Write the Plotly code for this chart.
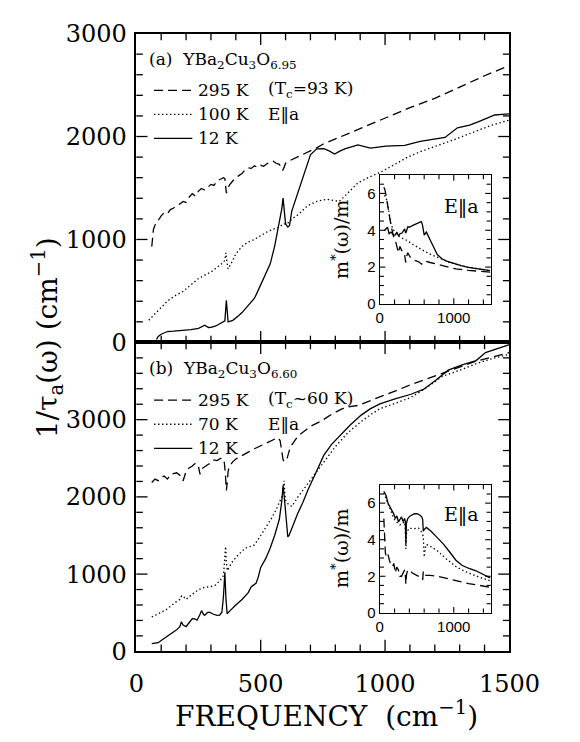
import plotly.graph_objects as go

# ---------------- data ----------------
a295_x = [62, 66, 69, 80, 88, 100, 112, 125, 137, 150, 162, 175, 188, 200, 212, 225, 238, 250, 262, 275, 288, 300, 312, 325, 338, 350, 356, 362, 368, 375, 388, 400, 412, 425, 438, 450, 462, 475, 488, 500, 512, 525, 538, 550, 562, 575, 582, 588, 594, 600, 612, 625, 650, 675, 700, 725, 750, 800, 850, 900, 950, 1000, 1100, 1200, 1300, 1400, 1500]
a295_y = [930, 1060, 1100, 1170, 1185, 1230, 1260, 1250, 1290, 1305, 1330, 1345, 1370, 1360, 1410, 1445, 1420, 1470, 1495, 1480, 1510, 1535, 1525, 1570, 1585, 1600, 1590, 1450, 1500, 1530, 1570, 1600, 1620, 1640, 1680, 1695, 1690, 1715, 1700, 1720, 1710, 1735, 1755, 1760, 1740, 1730, 1700, 1670, 1700, 1740, 1760, 1775, 1805, 1830, 1860, 1890, 1925, 1975, 2025, 2075, 2130, 2180, 2280, 2370, 2480, 2590, 2690]
a100_x = [50, 88, 125, 160, 188, 220, 250, 280, 300, 330, 350, 356, 360, 364, 369, 380, 400, 425, 450, 475, 500, 525, 550, 575, 590, 606, 625, 650, 690, 730, 766, 816, 850, 891, 940, 979, 1040, 1091, 1150, 1216, 1290, 1366, 1430, 1500]
a100_y = [215, 309, 402, 460, 496, 560, 621, 660, 683, 740, 777, 800, 870, 780, 714, 760, 860, 933, 975, 1001, 1040, 1073, 1100, 1120, 1151, 1151, 1198, 1240, 1330, 1375, 1390, 1370, 1450, 1550, 1610, 1650, 1730, 1800, 1860, 1913, 1980, 2053, 2110, 2160]
a12_x = [81, 88, 100, 125, 150, 188, 220, 250, 275, 290, 300, 320, 338, 350, 356, 362, 366, 369, 388, 400, 412, 425, 438, 450, 462, 475, 488, 500, 512, 525, 538, 556, 575, 585, 590, 595, 600, 609, 616, 625, 650, 675, 700, 725, 754, 775, 797, 820, 841, 891, 941, 1004, 1079, 1141, 1191, 1241, 1291, 1340, 1379, 1441, 1470, 1500]
a12_y = [28, 59, 80, 106, 110, 115, 125, 137, 168, 145, 147, 160, 184, 200, 209, 409, 260, 200, 215, 235, 262, 290, 324, 360, 387, 430, 496, 560, 621, 690, 761, 933, 1151, 1300, 1401, 1280, 1151, 1120, 1136, 1276, 1463, 1650, 1822, 1880, 1882, 1860, 1830, 1860, 1882, 1919, 1888, 1907, 1913, 1953, 1970, 1991, 2084, 2110, 2147, 2209, 2215, 2220]
b295_x = [62, 75, 88, 100, 112, 125, 138, 150, 162, 175, 188, 200, 212, 225, 238, 250, 256, 262, 275, 288, 300, 312, 325, 338, 348, 354, 358, 362, 366, 369, 375, 388, 400, 425, 450, 475, 500, 525, 550, 569, 578, 584, 590, 594, 600, 606, 612, 619, 635, 650, 675, 700, 740, 790, 829, 860, 891, 930, 979, 1040, 1104, 1160, 1229, 1290, 1354, 1420, 1500]
b295_y = [2187, 2230, 2210, 2249, 2270, 2230, 2291, 2300, 2312, 2280, 2208, 2330, 2374, 2400, 2436, 2390, 2291, 2360, 2395, 2420, 2440, 2478, 2470, 2498, 2500, 2440, 2300, 2083, 2200, 2332, 2400, 2457, 2490, 2540, 2580, 2623, 2660, 2706, 2740, 2768, 2730, 2600, 2480, 2457, 2470, 2498, 2580, 2643, 2720, 2789, 2850, 2913, 2976, 3080, 3142, 3170, 3184, 3230, 3288, 3370, 3454, 3520, 3599, 3670, 3745, 3800, 3869]
b70_x = [62, 80, 100, 120, 138, 160, 175, 182, 188, 194, 200, 225, 250, 275, 300, 320, 338, 348, 352, 356, 359, 362, 366, 375, 388, 410, 438, 460, 475, 500, 525, 545, 562, 575, 588, 592, 594, 597, 600, 612, 625, 650, 688, 720, 750, 800, 850, 904, 940, 979, 1040, 1104, 1160, 1229, 1300, 1366, 1430, 1500]
b70_y = [444, 470, 506, 540, 589, 640, 672, 720, 714, 690, 672, 740, 797, 830, 838, 860, 921, 960, 1046, 1200, 1357, 1150, 1046, 1100, 1170, 1250, 1336, 1360, 1378, 1500, 1627, 1730, 1834, 1920, 2021, 2150, 2208, 2050, 1959, 1900, 1876, 2000, 2166, 2300, 2436, 2650, 2830, 2976, 3060, 3142, 3210, 3288, 3400, 3558, 3640, 3724, 3790, 3848]
b12_x = [62, 75, 88, 100, 125, 150, 162, 175, 181, 188, 200, 212, 225, 235, 244, 255, 262, 270, 275, 285, 294, 310, 325, 335, 344, 350, 356, 360, 365, 375, 388, 400, 425, 450, 462, 475, 481, 490, 500, 520, 538, 556, 575, 585, 590, 595, 600, 605, 609, 614, 619, 635, 650, 670, 691, 720, 754, 785, 816, 860, 904, 940, 979, 1040, 1104, 1154, 1200, 1254, 1310, 1366, 1404, 1450, 1500]
b12_y = [100, 105, 112, 140, 195, 250, 278, 320, 382, 340, 320, 370, 423, 420, 403, 470, 527, 480, 465, 500, 506, 480, 465, 470, 506, 700, 1025, 700, 486, 520, 569, 600, 672, 760, 838, 860, 880, 960, 1087, 1200, 1336, 1500, 1710, 1950, 2146, 1990, 1793, 1600, 1482, 1500, 1544, 1680, 1793, 1930, 2100, 2300, 2540, 2680, 2789, 2930, 3059, 3140, 3204, 3270, 3329, 3391, 3500, 3641, 3710, 3765, 3869, 3920, 3973]
ia12_x = [63, 85, 105, 126, 150, 189, 210, 231, 252, 273, 300, 336, 350, 357, 380, 399, 440, 483, 520, 559, 575, 590, 601, 630, 670, 714, 777, 840, 903, 960, 1029, 1100, 1197, 1300, 1400, 1491]
ia12_y = [3.99, 4.1, 4.16, 3.81, 3.9, 3.73, 3.75, 3.9, 3.7, 3.81, 3.85, 4.07, 3.85, 3.9, 4.2, 4.16, 4.25, 4.33, 4.4, 4.47, 4.33, 4.0, 3.73, 3.9, 3.6, 3.2, 2.68, 2.45, 2.33, 2.25, 2.16, 2.08, 1.99, 1.93, 1.87, 1.81]
ia100_x = [63, 85, 105, 126, 147, 170, 189, 230, 273, 315, 357, 440, 525, 610, 693, 820, 945, 1070, 1197, 1350, 1491]
ia100_y = [5.9, 5.75, 5.46, 4.9, 4.42, 4.15, 3.99, 3.8, 3.64, 3.55, 3.47, 3.25, 3.03, 2.85, 2.68, 2.45, 2.25, 2.1, 1.99, 1.9, 1.81]
ia295_x = [55, 70, 88, 110, 130, 150, 172, 190, 210, 230, 252, 265, 273, 295, 315, 335, 350, 365, 378, 410, 441, 480, 520, 567, 585, 609, 680, 777, 900, 1029, 1200, 1350, 1491]
ia295_y = [6.33, 6.2, 5.81, 5.2, 4.77, 4.3, 3.9, 3.6, 3.47, 3.1, 2.78, 3.0, 3.12, 2.9, 2.86, 2.7, 2.25, 2.6, 2.78, 2.55, 2.42, 2.35, 2.3, 2.16, 2.25, 2.33, 2.25, 2.16, 2.03, 1.9, 1.82, 1.77, 1.73]
ib12_x = [55, 70, 88, 110, 130, 150, 172, 190, 210, 230, 252, 270, 294, 315, 336, 345, 353, 360, 378, 410, 441, 470, 504, 540, 567, 580, 588, 600, 630, 693, 780, 861, 950, 1029, 1110, 1197, 1300, 1400, 1491]
ib12_y = [6.65, 6.5, 6.39, 6.0, 5.86, 5.7, 5.51, 5.4, 5.16, 5.3, 4.98, 5.1, 5.25, 5.0, 5.16, 5.0, 3.76, 4.9, 5.16, 5.3, 5.37, 5.42, 5.42, 5.35, 5.25, 5.1, 4.46, 4.55, 4.67, 4.46, 4.1, 3.76, 3.3, 2.88, 2.6, 2.44, 2.3, 2.1, 1.91]
ib70_x = [55, 90, 130, 160, 189, 230, 273, 305, 336, 345, 353, 362, 399, 460, 525, 560, 588, 596, 601, 612, 630, 700, 777, 900, 1029, 1110, 1197, 1350, 1491]
ib70_y = [6.56, 6.2, 5.69, 5.4, 5.16, 4.95, 4.81, 4.9, 4.98, 4.6, 3.49, 4.4, 4.63, 4.6, 4.63, 4.45, 4.19, 3.5, 3.05, 3.5, 3.75, 3.6, 3.4, 2.95, 2.53, 2.35, 2.18, 1.95, 1.75]
ib295_x = [55, 60, 63, 75, 88, 110, 130, 150, 172, 190, 210, 230, 252, 270, 294, 315, 336, 345, 353, 362, 378, 410, 441, 500, 567, 580, 588, 600, 680, 777, 900, 1029, 1200, 1350, 1491]
ib295_y = [5.16, 4.3, 3.76, 3.3, 3.05, 3.2, 2.88, 2.6, 2.53, 2.7, 2.18, 2.5, 2.35, 2.0, 2.0, 2.2, 2.35, 2.1, 1.56, 2.1, 2.35, 2.3, 2.18, 2.05, 1.91, 1.8, 2.26, 2.05, 2.05, 2.0, 1.88, 1.75, 1.6, 1.5, 1.4]

legend_a = ["295 K", "100 K", "12 K"]
legend_b = ["295 K", "70 K", "12 K"]
main_yticks = [0, 1000, 2000, 3000]
main_xticks = [0, 500, 1000, 1500]
inset_xticks = [0, 1000]
inset_yticks = [0, 2, 4, 6]

W, H = 580, 742
SERIF = "DejaVu Serif"
SANS = "Liberation Sans"


def fx(p):
    return p / W


def fy(p):
    return 1 - p / H


DASH = "9px,5px"
DOT = "1.4px,2.6px"
STYLES = [DASH, DOT, "solid"]
LW = 1.3

# subplot domains (paper fractions)
MAIN_X = [fx(129), fx(529)]
A_Y = [fy(333), fy(12)]
B_Y = [fy(654), fy(333)]
INS_X = [fx(390), fx(509)]
IA_Y = [fy(293), fy(159)]
IB_Y = [fy(614), fy(481)]

fig = go.Figure()


def add(x, y, dash, xa, ya):
    fig.add_trace(go.Scatter(
        x=x, y=y, mode="lines",
        line=dict(color="black", width=LW, dash=dash),
        xaxis=xa, yaxis=ya, showlegend=False))


add(a295_x, a295_y, DASH, "x", "y")
add(a100_x, a100_y, DOT, "x", "y")
add(a12_x, a12_y, "solid", "x", "y")
add(b295_x, b295_y, DASH, "x2", "y2")
add(b70_x, b70_y, DOT, "x2", "y2")
add(b12_x, b12_y, "solid", "x2", "y2")
add(ia295_x, ia295_y, DASH, "x3", "y3")
add(ia100_x, ia100_y, DOT, "x3", "y3")
add(ia12_x, ia12_y, "solid", "x3", "y3")
add(ib295_x, ib295_y, DASH, "x4", "y4")
add(ib70_x, ib70_y, DOT, "x4", "y4")
add(ib12_x, ib12_y, "solid", "x4", "y4")


def axis(**kw):
    d = dict(showline=True, linecolor="black", linewidth=1.6, mirror=True,
             ticks="", showgrid=False, zeroline=False, ticklabeloverflow="allow")
    d.update(kw)
    return d


def main_x(anchor, labels):
    return axis(domain=MAIN_X, range=[0, 1500], anchor=anchor,
                tickmode="array", tickvals=main_xticks,
                showticklabels=labels, ticklabelstandoff=10,
                tickfont=dict(family=SERIF, size=24, color="black"))


def main_y(anchor, dom, top):
    return axis(domain=dom, range=[0, top], anchor=anchor,
                tickmode="array", tickvals=main_yticks, ticklabelstandoff=3,
                tickfont=dict(family=SERIF, size=24, color="black"))


def inset_x(anchor):
    return axis(domain=INS_X, range=[0, 1500], anchor=anchor,
                tickmode="array", tickvals=inset_xticks, linewidth=1.4,
                tickfont=dict(family=SANS, size=15, color="black"))


def inset_y(anchor, dom):
    return axis(domain=dom, range=[0, 7], anchor=anchor,
                tickmode="array", tickvals=inset_yticks, linewidth=1.4,
                tickfont=dict(family=SANS, size=15, color="black"))


ann = []
shapes = []


def text(x, y, s, size=17, family=SERIF, angle=0, xanchor="left"):
    ann.append(dict(x=fx(x), y=fy(y), xref="paper", yref="paper", text=s,
                    showarrow=False, xanchor=xanchor, yanchor="middle",
                    textangle=angle, font=dict(family=family, size=size, color="black")))


def seq(top, step):
    out, v = [], 0.0
    while v <= top + 1e-9:
        out.append(round(v, 6))
        v += step
    return out


# inward tick marks on all four sides of a frame, mapped from axis values
def tick_marks(xdom, ydom, xmax, ymax, xmaj, xstep, ymaj, ystep, lmaj, lmin, tw):
    xa, xb = xdom
    ya, yb = ydom
    for v in seq(xmax, xstep):
        if v <= 0 or v >= xmax:
            continue
        xp = xa + v / xmax * (xb - xa)
        L = (lmaj if v in xmaj else lmin) / H
        for y0, y1 in ((ya, ya + L), (yb, yb - L)):
            shapes.append(dict(type="line", xref="paper", yref="paper",
                               x0=xp, x1=xp, y0=y0, y1=y1,
                               line=dict(color="black", width=tw)))
    for v in seq(ymax, ystep):
        if v <= 0 or v >= ymax:
            continue
        yp = ya + v / ymax * (yb - ya)
        L = (lmaj if v in ymaj else lmin) / W
        for x0, x1 in ((xa, xa + L), (xb, xb - L)):
            shapes.append(dict(type="line", xref="paper", yref="paper",
                               x0=x0, x1=x1, y0=yp, y1=yp,
                               line=dict(color="black", width=tw)))


tick_marks(MAIN_X, A_Y, 1500, 3000, main_xticks, 100, main_yticks, 200, 12, 7, 1.3)
tick_marks(MAIN_X, B_Y, 1500, 4000, main_xticks, 100, main_yticks, 200, 12, 7, 1.3)
tick_marks(INS_X, IA_Y, 1500, 7, inset_xticks, 200, inset_yticks, 0.5, 6, 4.5, 1.1)
tick_marks(INS_X, IB_Y, 1500, 7, inset_xticks, 200, inset_yticks, 0.5, 6, 4.5, 1.1)


# legend blocks (key line + label), built from the legend name lists
def legend_block(names, y0):
    for i, (nm, st) in enumerate(zip(names, STYLES)):
        yy = y0 + 25 * i
        shapes.append(dict(type="line", xref="paper", yref="paper",
                           x0=fx(148), x1=fx(189), y0=fy(yy), y1=fy(yy),
                           line=dict(color="black", width=LW, dash=st)))
        text(193, yy, nm)


legend_block(legend_a, 71)
legend_block(legend_b, 393)

text(140, 40, "(a)  YBa<sub>2</sub>Cu<sub>3</sub>O<sub>6.95</sub>")
text(268, 70, "(T<sub>c</sub>=93 K)")
text(268, 96, "E‖a")
text(140, 361, "(b)  YBa<sub>2</sub>Cu<sub>3</sub>O<sub>6.60</sub>")
text(268, 392, "(T<sub>c</sub>~60 K)")
text(268, 418, "E‖a")
text(478, 192, "E‖a", size=19, xanchor="center")
text(478, 512, "E‖a", size=19, xanchor="center")
text(348, 226, "m<sup>*</sup>(ω)/m", size=19, angle=-90, xanchor="center")
text(348, 547, "m<sup>*</sup>(ω)/m", size=19, angle=-90, xanchor="center")
text(333, 720, "FREQUENCY  (cm<sup>−1</sup>)", size=28, xanchor="center")
text(34, 328, "1/τ<sub>a</sub>(ω) (cm<sup>−1</sup>)", size=28, angle=-90, xanchor="center")

fig.update_layout(
    width=W, height=H,
    margin=dict(l=0, r=0, t=0, b=0),
    plot_bgcolor="white",
    showlegend=False,
    xaxis=main_x("y", False),
    yaxis=main_y("x", A_Y, 3000),
    xaxis2=main_x("y2", True),
    yaxis2=main_y("x2", B_Y, 4000),
    xaxis3=inset_x("y3"),
    yaxis3=inset_y("x3", IA_Y),
    xaxis4=inset_x("y4"),
    yaxis4=inset_y("x4", IB_Y),
    annotations=ann,
    shapes=shapes,
)
fig.write_html("out.html")
